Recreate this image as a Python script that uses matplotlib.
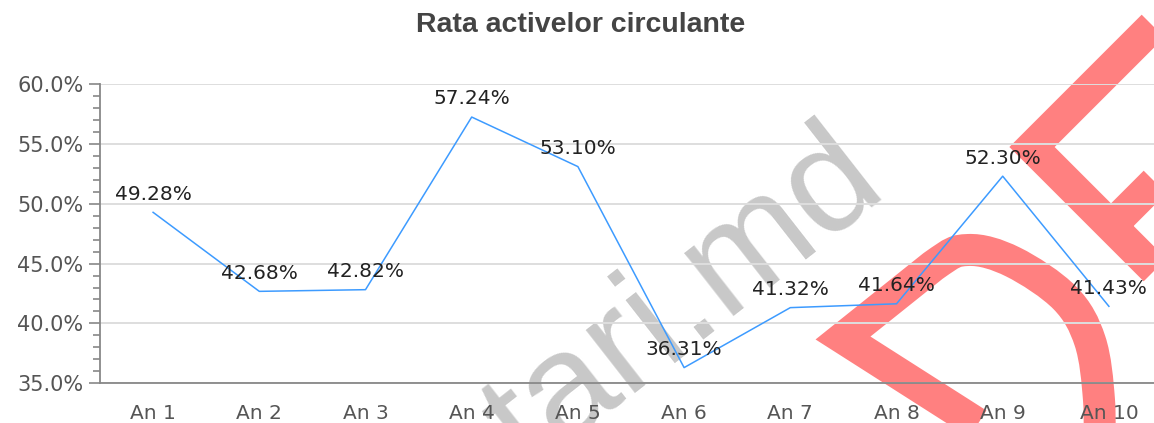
import matplotlib
matplotlib.use("Agg")
import matplotlib.pyplot as plt
from matplotlib.path import Path
from matplotlib.patches import PathPatch
from matplotlib.ticker import MultipleLocator

# ---- data ----
title = "Rata activelor circulante"
categories = ["An 1", "An 2", "An 3", "An 4", "An 5", "An 6", "An 7", "An 8", "An 9", "An 10"]
values = [49.28, 42.68, 42.82, 57.24, 53.10, 36.31, 41.32, 41.64, 52.30, 41.43]
y_ticks = [35, 40, 45, 50, 55, 60]
y_tick_labels = ["35.0%", "40.0%", "45.0%", "50.0%", "55.0%", "60.0%"]
watermark_text = "tari.md"

W, H = 1154, 423
fig = plt.figure(figsize=(W / 100, H / 100), dpi=100)
fig.patch.set_facecolor("white")

# ---- background watermark layer (pixel coordinates, y downward) ----
bg = fig.add_axes([0, 0, 1, 1], zorder=0)
bg.set_xlim(0, W)
bg.set_ylim(H, 0)
bg.axis("off")


def smooth_path(start_pts, spline_pts):
    """Straight lead-in followed by a Catmull-Rom curve (decoration only)."""
    verts = [start_pts[0]]
    codes = [Path.MOVETO]
    for p in start_pts[1:]:
        verts.append(p)
        codes.append(Path.LINETO)
    pts = [start_pts[-2]] + spline_pts + [spline_pts[-1]]
    for i in range(1, len(pts) - 2):
        p0, p1, p2, p3 = pts[i - 1], pts[i], pts[i + 1], pts[i + 2]
        c1 = (p1[0] + (p2[0] - p0[0]) / 6, p1[1] + (p2[1] - p0[1]) / 6)
        c2 = (p2[0] - (p3[0] - p1[0]) / 6, p2[1] - (p3[1] - p1[1]) / 6)
        verts += [c1, c2, p2]
        codes += [Path.CURVE4] * 3
    return Path(verts, codes)


red = "#ff8080"
lw_band = 32 * 0.72
d_path = smooth_path(
    [(1028, 456), (843, 338), (933, 266)],
    [(933, 266), (968, 250), (1013, 262), (1065, 298), (1090, 341), (1099, 400), (1099, 455)],
)
f_path = Path(
    [(1153, 26), (1032, 147), (1250, 365), (1111, 226), (1250, 87)],
    [Path.MOVETO, Path.LINETO, Path.LINETO, Path.MOVETO, Path.LINETO],
)
for p in (d_path, f_path):
    bg.add_patch(PathPatch(p, facecolor="none", edgecolor=red, lw=lw_band,
                           capstyle="butt", joinstyle="miter", clip_on=False))

bg.text(529, 474, watermark_text, fontsize=108, family="Liberation Sans",
        color="#c8c8c8", rotation=38, rotation_mode="anchor",
        ha="left", va="baseline", clip_on=False)

# ---- main chart ----
left_px, right_px = 100, 1162
bottom_px, top_px = 383.3, 84
ax = fig.add_axes([left_px / W, (H - bottom_px) / H, (right_px - left_px) / W,
                   (bottom_px - top_px) / H], zorder=1)
ax.patch.set_alpha(0)

x = list(range(len(categories)))
ax.plot(x, values, color="#3d9bff", lw=1.1, zorder=3, clip_on=False)
for xi, v in zip(x, values):
    ax.annotate(f"{v:.2f}%", (xi, v), xytext=(0, 13), textcoords="offset points",
                ha="center", va="center", fontsize=14.5, color="#222222",
                family="DejaVu Sans", zorder=4, annotation_clip=False)

ax.set_xlim(-0.5, len(categories) - 0.5)
ax.set_ylim(y_ticks[0], y_ticks[-1])
ax.set_xticks(x)
ax.set_xticklabels(categories)
ax.set_yticks(y_ticks)
ax.set_yticklabels(y_tick_labels)
ax.yaxis.set_minor_locator(MultipleLocator(1))

ax.grid(axis="y", which="major", color="#dedede", lw=1.4, zorder=1)
ax.set_axisbelow(True)
for s in ("top", "right"):
    ax.spines[s].set_visible(False)
for s in ("left", "bottom"):
    ax.spines[s].set_color("#888888")
    ax.spines[s].set_linewidth(1.3)

ax.tick_params(axis="x", length=0, pad=15, labelsize=14.5, labelcolor="#555555")
ax.tick_params(axis="y", which="major", length=8, width=1.2, color="#888888",
               pad=4, labelsize=15, labelcolor="#555555")
ax.tick_params(axis="y", which="minor", length=5, width=1.2, color="#888888")

fig.text(581 / W, 1 - 32 / H, title, ha="center", va="baseline",
         fontsize=20.5, fontweight="bold", family="Liberation Sans", color="#444444")

fig.savefig("out.png", dpi=100, facecolor="white")
